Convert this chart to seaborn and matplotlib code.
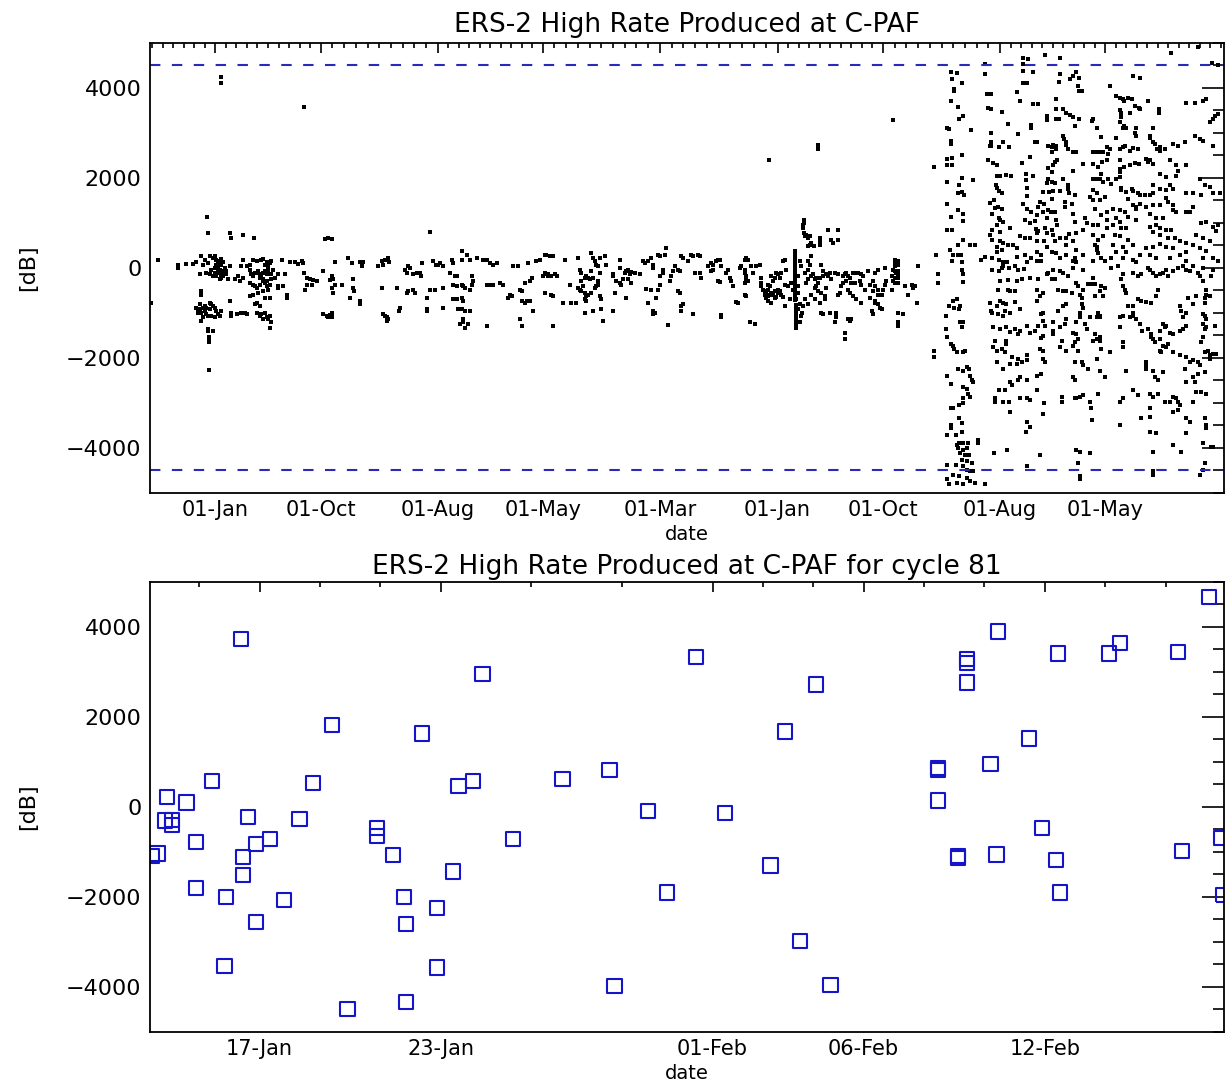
import numpy as np
import pandas as pd
import matplotlib
matplotlib.use("Agg")
import matplotlib.pyplot as plt
import matplotlib.dates as mdates
from matplotlib.ticker import FixedLocator, MultipleLocator
import seaborn as sns

# ---- data: top panel, (decimal year, dB) ----
pts_1995_1997 = [
    (1995.546, -770), (1995.593, 170), (1995.736, 75), (1995.736, 0), (1995.795, 95), (1995.842, 95), (1995.866, 125),
    (1995.901, 255), (1995.925, 185), (1995.961, 255), (1995.984, 220), (1995.996, 255), (1996.008, 170), (1996.020, 110),
    (1996.032, 145), (1996.044, 200), (1996.056, 125), (1995.949, 110), (1995.913, 75), (1995.937, -110), (1995.961, -145),
    (1995.996, -110), (1996.008, -185), (1996.020, -110), (1996.032, -35), (1996.044, -145), (1996.044, -220), (1996.056, -75),
    (1996.067, -110), (1996.079, -145), (1996.091, -255), (1996.103, 35), (1995.890, -145), (1995.996, 0), (1995.973, -35),
    (1996.008, 75), (1996.032, -255), (1996.067, 0), (1995.984, -185), (1996.020, 40), (1996.020, -40), (1996.044, 60),
    (1996.044, -60), (1996.056, -180), (1996.079, -60),
    (1995.866, -880), (1995.878, -955), (1995.890, -920), (1995.901, -990), (1995.913, -880), (1995.925, -845), (1995.890, -810),
    (1995.937, -1030), (1995.949, -1065), (1995.913, -1100), (1995.961, -920), (1995.973, -810), (1995.984, -845), (1995.996, -880),
    (1996.008, -955), (1996.020, -1030), (1996.032, -1065), (1995.973, -1065), (1995.996, -1100), (1996.044, -955), (1995.961, -770),
    (1995.901, -1175), (1995.949, -1360), (1995.984, -1395), (1995.956, -1545), (1995.956, -1640), (1996.103, -735), (1996.115, -990),
    (1996.115, -1065), (1996.155, -1030), (1996.186, -990), (1996.222, -1030), (1995.901, -515), (1995.901, -590),
    (1995.952, -2270), (1995.952, -1600), (1995.945, -1390), (1995.878, -1000), (1995.925, -960), (1995.937, -900),
    (1995.949, 770), (1996.103, 770), (1996.115, 660), (1996.198, 735), (1996.274, 660), (1996.779, 640), (1996.802, 660),
    (1996.826, 640), (1995.944, 1130),
    (1996.139, -255), (1996.162, -185), (1996.174, -295), (1996.198, -220), (1996.186, 35), (1996.222, 35), (1996.245, -35),
    (1996.257, -145), (1996.269, -185), (1996.281, -110), (1996.293, -110), (1996.305, -75), (1996.316, -145), (1996.328, -185),
    (1996.340, -110), (1996.352, -75), (1996.364, -145), (1996.376, -35), (1996.269, 185), (1996.293, 145), (1996.328, 185),
    (1996.340, 200), (1996.364, 125), (1996.388, 110), (1996.399, 145), (1996.352, 75), (1996.376, 35), (1996.245, -330),
    (1996.269, -370), (1996.281, -405), (1996.293, -440), (1996.316, -370), (1996.340, -295), (1996.352, -330), (1996.364, -405),
    (1996.376, -480), (1996.388, -370), (1996.399, -255), (1996.423, -220), (1996.447, -145), (1996.447, -405), (1996.447, -440),
    (1996.245, -625), (1996.269, -590), (1996.305, -550), (1996.340, -515), (1996.352, -660), (1996.388, -660), (1996.471, 185),
    (1996.494, -145), (1996.506, -660), (1996.506, -590), (1996.482, -405), (1996.198, 185), (1996.245, 75), (1996.411, -35),
    (1996.393, -145), (1996.316, -230), (1996.340, -250), (1996.364, -280),
    (1996.281, -810), (1996.293, -770), (1996.316, -845), (1996.316, -1065), (1996.328, -1030), (1996.352, -1005), (1996.364, -1100),
    (1996.376, -1140), (1996.340, -1140), (1996.388, -1065), (1996.395, -1210), (1996.388, -1325), (1996.210, -990), (1996.293, -990),
    (1996.530, 125), (1996.565, 125), (1996.589, 95), (1996.613, 145), (1996.625, 110), (1996.629, -110), (1996.648, -220),
    (1996.672, -245), (1996.684, -370), (1996.648, -370), (1996.696, -270), (1996.637, -480), (1996.720, -295), (1996.767, -75),
    (1996.826, -185), (1996.833, -255), (1996.826, -440), (1996.833, -550), (1996.814, -270), (1996.850, -370), (1996.897, -370),
    (1996.850, 125), (1996.945, 220), (1996.968, 110), (1996.980, -440), (1996.985, -515), (1996.980, -255), (1996.957, -660),
    (1996.767, -1030), (1996.791, -1065), (1996.814, -1050), (1996.826, -990), (1996.802, -1100), (1996.826, -1100),
]

pts_1997_1998 = [
    (1997.028, 125), (1997.051, 125), (1997.040, 35), (1997.028, -735), (1997.028, -810),
    (1997.158, 50), (1997.182, 145), (1997.206, 185), (1997.229, 220), (1997.236, 125), (1997.194, 75), (1997.182, -440),
    (1997.288, -440), (1997.217, -1100), (1997.229, -1140), (1997.222, -1175), (1997.206, -1065), (1997.194, -1030),
    (1997.312, -880), (1997.307, -955), (1997.348, -35), (1997.360, -110), (1997.372, 35), (1997.383, 0), (1997.407, -145),
    (1997.431, -110), (1997.454, -110), (1997.459, -185), (1997.360, -550), (1997.372, -515), (1997.407, -480), (1997.419, -550),
    (1997.466, 110), (1997.502, -660), (1997.502, -920), (1997.502, -955), (1997.549, 145), (1997.568, 75), (1997.585, 75),
    (1997.597, 110), (1997.620, 35), (1997.526, -480), (1997.561, -480), (1997.620, -440), (1997.620, -880), (1997.526, 810),
    (1997.668, -110), (1997.680, 185), (1997.692, 110), (1997.703, -185), (1997.715, -185), (1997.751, 370), (1997.786, 295),
    (1997.751, 185), (1997.810, 185), (1997.858, 220), (1997.905, 185), (1997.929, 185), (1997.952, 110), (1997.976, 75),
    (1998.000, 110), (1997.692, -370), (1997.715, -405), (1997.751, -370), (1997.763, -405), (1997.775, -440), (1997.822, -370),
    (1997.929, -370), (1997.952, -370), (1997.976, -370), (1997.822, -185), (1997.834, -295), (1997.810, -480), (1997.692, -700),
    (1997.715, -700), (1997.751, -660), (1997.763, -735), (1997.751, -920), (1997.727, -920), (1997.775, -955), (1997.810, -955),
    (1997.763, -1140), (1997.739, -1250), (1997.775, -1325), (1997.763, -1210), (1997.798, -1250), (1997.929, -1285),
    (1998.024, -330), (1998.047, -370), (1998.095, -590), (1998.107, -625), (1998.083, -660), (1998.118, 35), (1998.154, 35),
    (1998.166, -480), (1998.178, -515), (1998.178, -735), (1998.201, -770), (1998.213, -735), (1998.237, -735), (1998.166, -1140),
    (1998.178, -1285), (1998.261, -955), (1998.225, 110), (1998.249, -220), (1998.284, 145), (1998.308, 185), (1998.332, -185),
    (1998.344, -110), (1998.355, 295), (1998.367, -145), (1998.237, -295), (1998.201, -330),
]

pts_1998_2000 = [
    (1998.343, 295), (1998.379, 255), (1998.402, 255), (1998.355, -145), (1998.367, -170), (1998.390, -185), (1998.414, -145),
    (1998.433, -185), (1998.343, -550), (1998.390, -590), (1998.402, -625), (1998.402, -1285), (1998.485, 185), (1998.521, -370),
    (1998.473, -770), (1998.533, -770), (1998.568, -770), (1998.580, 220), (1998.592, -35), (1998.604, -110), (1998.580, -440),
    (1998.592, -480), (1998.604, -515), (1998.628, -550), (1998.616, -405), (1998.604, -295), (1998.628, -220), (1998.639, -185),
    (1998.651, -220), (1998.675, -75), (1998.675, 330), (1998.687, 220), (1998.699, 145), (1998.710, 75), (1998.722, 35),
    (1998.734, -110), (1998.722, -295), (1998.722, -370), (1998.710, -405), (1998.699, -440), (1998.675, -550), (1998.651, -590),
    (1998.639, -625), (1998.628, -700), (1998.639, -735), (1998.663, -255), (1998.687, -220), (1998.734, -625), (1998.746, -700),
    (1998.770, 255), (1998.782, 75), (1998.734, 220), (1998.628, -990), (1998.687, -955), (1998.746, -905), (1998.758, -1175),
    (1998.829, -145), (1998.829, -185), (1998.841, -550), (1998.876, 185), (1998.876, 0), (1998.912, -110), (1998.924, -75),
    (1998.936, -35), (1998.948, -145), (1998.959, -95), (1998.853, -295), (1998.876, -330), (1998.888, -370), (1998.936, -255),
    (1998.959, -330), (1998.900, -255), (1998.924, -660), (1998.829, -955), (1998.983, -110), (1999.019, -145), (1999.042, 145),
    (1999.054, 110), (1999.078, 145), (1999.102, 220), (1999.114, 75), (1999.149, 295), (1999.161, 255), (1999.197, 295),
    (1999.208, 440), (1999.185, -35), (1999.161, -370), (1999.114, 0), (1999.066, -465), (1999.102, -480), (1999.137, -660),
    (1999.149, -480), (1999.078, -770), (1999.114, -955), (1999.125, -990), (1999.114, -1030), (1999.161, -185), (1999.185, -110),
    (1999.220, -1270), (1999.232, -295), (1999.244, -185), (1999.256, -75), (1999.268, 35), (1999.291, -35), (1999.303, -75),
    (1999.315, 255), (1999.327, 220), (1999.363, 145), (1999.386, 295), (1999.398, 255), (1999.434, 295), (1999.446, 255),
    (1999.291, -515), (1999.303, -550), (1999.315, -845), (1999.315, -955), (1999.327, -810), (1999.398, -1030), (1999.410, -110),
    (1999.446, -110), (1999.457, -220), (1999.505, 35), (1999.529, 110), (1999.540, 75), (1999.564, 145), (1999.576, 185),
    (1999.588, 170), (1999.600, 35), (1999.529, -75), (1999.540, -35), (1999.576, -295), (1999.588, -315), (1999.600, -1100),
    (1999.600, -1050), (1999.635, -110), (1999.647, -35), (1999.659, -220), (1999.671, -295), (1999.683, -405), (1999.706, -755),
    (1999.718, -770), (1999.730, 0), (1999.742, 35), (1999.766, 185), (1999.777, 220), (1999.789, 185), (1999.766, -35),
    (1999.766, -110), (1999.777, -185), (1999.777, -255), (1999.766, -330), (1999.789, -295), (1999.813, 35), (1999.825, -110),
    (1999.849, 35), (1999.872, 75), (1999.766, -590), (1999.777, -625), (1999.801, -1210), (1999.837, -1250), (1999.884, -220),
    (1999.884, -405), (1999.896, -480), (1999.908, -515), (1999.932, -370), (1999.943, -405), (1999.932, -480), (1999.955, -185),
    (1999.967, -295), (1999.979, -220), (1999.991, -110), (2000.003, -145), (2000.015, -220), (2000.026, -110), (2000.038, 145),
    (2000.050, 185), (2000.062, -35), (1999.884, -330), (1999.908, -590), (1999.920, -660), (1999.943, -590), (1999.955, -550),
    (1999.932, -735), (1999.955, -770), (1999.979, -515), (2000.003, -550), (2000.026, -590), (1999.979, -660), (2000.003, -480),
    (2000.050, -370), (2000.074, -405), (2000.097, -330), (2000.109, -480), (2000.086, -700), (2000.050, -845),
    (1999.920, -560), (1999.932, -620), (1999.967, -600), (1999.990, -650), (2000.015, -520), (2000.040, -640),
]

pts_2000_2001 = [
    (2000.124, 370), (2000.124, 325), (2000.124, 280), (2000.124, 235), (2000.124, 190), (2000.124, 145), (2000.124, 100),
    (2000.124, 55), (2000.124, 10), (2000.124, -35), (2000.124, -80), (2000.124, -125), (2000.124, -170), (2000.124, -215),
    (2000.124, -260), (2000.124, -305), (2000.124, -350), (2000.124, -395), (2000.124, -440), (2000.124, -485), (2000.124, -530),
    (2000.124, -575), (2000.124, -620), (2000.124, -665), (2000.124, -710),
    (2000.131, -830), (2000.131, -880), (2000.131, -930), (2000.131, -980), (2000.131, -1030), (2000.131, -1080),
    (2000.131, -1130), (2000.131, -1180), (2000.131, -1230), (2000.131, -1280), (2000.131, -1330),
    (2000.145, -405), (2000.145, -550), (2000.133, -700), (2000.145, -920), (2000.157, -810), (2000.169, -1065), (2000.173, -990),
    (2000.157, -1210), (2000.181, -845), (2000.192, -700), (2000.216, -810), (2000.204, -330), (2000.216, -255), (2000.240, -185),
    (2000.252, -145), (2000.264, -255), (2000.275, -220), (2000.287, -330), (2000.299, -220), (2000.323, -185), (2000.346, -145),
    (2000.358, -185), (2000.370, -110), (2000.382, -255), (2000.406, -110), (2000.429, -145), (2000.216, -35), (2000.228, 75),
    (2000.240, 255), (2000.216, 145), (2000.311, 75), (2000.323, -75), (2000.169, 35), (2000.192, -110), (2000.145, -185),
    (2000.157, 145), (2000.287, -515), (2000.311, -550), (2000.335, -625), (2000.335, -700), (2000.346, -440), (2000.264, -440),
    (2000.275, -405), (2000.240, -590), (2000.264, -700), (2000.299, -770), (2000.311, -990), (2000.323, -1030), (2000.370, -990),
    (2000.418, -990), (2000.418, -1100), (2000.406, -1210), (2000.429, -590), (2000.441, -550), (2000.453, -405), (2000.465, -185),
    (2000.477, -145), (2000.489, -110), (2000.501, -185), (2000.512, -220), (2000.536, -110), (2000.560, -110), (2000.572, -110),
    (2000.595, -145), (2000.607, -185), (2000.465, -330), (2000.489, -295), (2000.524, -330), (2000.548, -330), (2000.584, -295),
    (2000.595, -370), (2000.501, -480), (2000.512, -550), (2000.536, -625), (2000.560, -700), (2000.595, -770), (2000.477, -1435),
    (2000.477, -1580), (2000.501, -1140), (2000.512, -1175), (2000.524, -1140), (2000.619, -480), (2000.655, -370),
    (2000.678, -295), (2000.690, -405), (2000.714, -480), (2000.678, -515), (2000.655, -660), (2000.690, -735), (2000.714, -810),
    (2000.726, -880), (2000.738, -920), (2000.667, -955), (2000.678, -1030), (2000.690, -770), (2000.714, -590), (2000.738, -590),
    (2000.750, -480), (2000.761, -370), (2000.773, -295), (2000.809, -185), (2000.821, -35), (2000.833, 35), (2000.844, 75),
    (2000.856, 145), (2000.844, -110), (2000.856, -220), (2000.833, -220), (2000.821, -295), (2000.833, -330), (2000.856, -330),
    (2000.809, -480), (2000.856, -990), (2000.856, -1210), (2000.856, -1285), (2000.892, -1030), (2000.904, -405),
    (2000.927, -590), (2000.951, -370), (2000.963, -440), (2000.975, -405), (2000.987, -770), (2000.999, 35), (2000.761, 0),
    (2000.714, -35), (2000.690, -110), (2000.643, -75), (2000.833, 180), (2000.833, 100), (2000.833, -60), (2000.856, 60),
    (2000.856, -60), (2000.856, -140),
    (2000.181, 955), (2000.181, 880), (2000.188, 770), (2000.204, 735), (2000.216, 660), (2000.228, 700), (2000.240, 550),
    (2000.228, 515), (2000.216, 480), (2000.259, 480), (2000.299, 660), (2000.299, 590), (2000.299, 515), (2000.358, 845),
    (2000.382, 625), (2000.394, 565), (2000.429, 845), (2000.429, 625), (2000.192, 700), (2000.190, 1060), (2000.190, 1000),
]

pts_outliers = [
    (1996.040, 4250), (1996.040, 4120), (1996.630, 3580), (1999.940, 2400), (2000.290, 2730), (2000.290, 2650),
    (2000.820, 3290), (2001.111, 2240),
]

pts_2001_upper = [
    (2001.229, 4345), (2001.277, 4335), (2001.236, 4190), (2001.307, 4115), (2001.255, 3980), (2001.255, 3930), (2001.229, 3710),
    (2001.279, 3580), (2001.291, 3320), (2001.319, 3380), (2001.205, 3120), (2001.220, 3085), (2001.371, 3070), (2001.229, 2830),
    (2001.229, 2755), (2001.205, 2425), (2001.236, 2445), (2001.205, 2290), (2001.236, 2290), (2001.307, 2500), (2001.205, 1910),
    (2001.307, 2000), (2001.291, 1835), (2001.307, 1690), (2001.284, 1655), (2001.326, 1615), (2001.386, 1945), (2001.201, 1430),
    (2001.284, 1285), (2001.319, 1210), (2001.229, 1140), (2001.314, 1045), (2001.201, 845), (2001.236, 845), (2001.314, 625),
    (2001.224, 405), (2001.284, 500), (2001.243, 295), (2001.284, 295), (2001.300, 295), (2001.125, 295), (2001.236, 160),
    (2001.307, 130), (2001.367, 515), (2001.402, 515), (2001.443, 185), (2001.473, 235),
    (2001.473, 4535), (2001.473, 4315), (2001.485, 3860), (2001.516, 3860), (2001.497, 3565), (2001.516, 3525), (2001.592, 3470),
    (2001.635, 3195), (2001.516, 2995), (2001.516, 2790), (2001.516, 2720), (2001.509, 2705), (2001.575, 2680), (2001.604, 2805),
    (2001.646, 2680), (2001.497, 2410), (2001.528, 2335), (2001.556, 2290), (2001.563, 2040), (2001.580, 2055), (2001.623, 2070),
    (2001.656, 2055), (2001.552, 1835), (2001.563, 1780), (2001.575, 1705), (2001.592, 1675), (2001.537, 1505), (2001.509, 1445),
    (2001.568, 1360), (2001.544, 1335), (2001.592, 1320), (2001.521, 1210), (2001.575, 1100), (2001.580, 1065), (2001.556, 955),
    (2001.604, 1030), (2001.521, 845), (2001.580, 810), (2001.509, 735), (2001.651, 880), (2001.521, 625), (2001.580, 590),
    (2001.604, 550), (2001.556, 475), (2001.639, 515), (2001.675, 515), (2001.592, 405), (2001.556, 365), (2001.699, 440),
    (2001.521, 220), (2001.575, 185), (2001.604, 130), (2001.632, 130), (2001.703, 235),
    (2001.746, 4665), (2001.782, 4645), (2001.741, 4540), (2001.746, 4370), (2001.817, 4345), (2001.746, 4115), (2001.770, 4115),
    (2001.699, 3910), (2001.722, 3710), (2001.817, 3635), (2001.805, 3175), (2001.805, 3120), (2001.710, 2975), (2001.829, 2805),
    (2001.846, 2790), (2001.793, 2460), (2001.734, 2335), (2001.765, 2095), (2001.817, 2040), (2001.765, 1945), (2001.774, 1780),
    (2001.770, 1600), (2001.741, 1430), (2001.770, 1320), (2001.805, 1250), (2001.841, 1175), (2001.758, 1065), (2001.829, 1045),
    (2001.793, 990), (2001.836, 865), (2001.841, 770), (2001.722, 720), (2001.758, 675), (2001.793, 660), (2001.841, 365),
    (2001.758, 295), (2001.805, 220), (2001.770, 130),
    (2001.900, 4740), (2001.853, 3635), (2001.912, 3380), (2001.912, 3290), (2001.983, 3745), (2001.983, 3540), (2001.983, 3305),
    (2002.002, 3305), (2001.924, 2720), (2001.948, 2680), (2001.959, 2735), (2001.948, 2570), (2001.983, 2705), (2001.983, 2645),
    (2001.971, 2350), (2001.959, 2290), (2001.988, 2410), (2001.924, 2220), (2001.948, 2130), (2001.919, 1985), (2001.912, 1895),
    (2001.948, 1910), (2001.971, 1895), (2001.888, 1690), (2001.931, 1690), (2001.959, 1705), (2002.007, 1705), (2001.869, 1470),
    (2001.893, 1430), (2001.948, 1530), (2001.853, 1360), (2001.884, 1250), (2001.924, 1285), (2001.943, 1250), (2001.912, 1100),
    (2001.971, 1250), (2001.983, 1065), (2001.988, 955), (2001.900, 880), (2001.948, 845), (2001.853, 825), (2001.912, 770),
    (2001.959, 735), (2001.841, 590), (2001.893, 590), (2001.971, 590), (2002.007, 660), (2001.912, 475), (2001.948, 365),
    (2001.876, 295), (2001.983, 330), (2002.007, 220), (2001.841, 160), (2001.876, 145),
]

pts_2001_lower = [
    (2001.111, -1835), (2001.111, -1985), (2001.141, -145), (2001.141, -345), (2001.196, -1065), (2001.196, -1360),
    (2001.201, -1545), (2001.205, -2390), (2001.229, -2570), (2001.229, -3120), (2001.229, -3490), (2001.229, -3565),
    (2001.201, -3710), (2001.201, -4370), (2001.201, -4700), (2001.220, -4810), (2001.229, -1690), (2001.243, -1725),
    (2001.248, -735), (2001.220, -845), (2001.253, -880), (2001.277, -700), (2001.291, -920), (2001.296, -845), (2001.296, -1200),
    (2001.319, -1210), (2001.307, -1320), (2001.253, -1800), (2001.272, -1875), (2001.314, -1860), (2001.331, -1835),
    (2001.319, -2280), (2001.284, -2255), (2001.343, -2205), (2001.362, -2240), (2001.367, -2390), (2001.379, -2500),
    (2001.319, -2645), (2001.343, -2680), (2001.319, -2885), (2001.355, -2790), (2001.367, -2865), (2001.390, -2535),
    (2001.291, -3050), (2001.319, -3010), (2001.243, -3120), (2001.291, -3345), (2001.307, -3455), (2001.267, -3710),
    (2001.307, -3635), (2001.291, -3895), (2001.319, -3895), (2001.355, -3895), (2001.272, -3930), (2001.284, -4005),
    (2001.319, -4040), (2001.343, -4005), (2001.296, -4115), (2001.331, -4150), (2001.362, -4150), (2001.307, -4260),
    (2001.343, -4300), (2001.379, -4335), (2001.267, -4370), (2001.314, -4410), (2001.343, -4480), (2001.367, -4520),
    (2001.390, -4505), (2001.248, -4590), (2001.291, -4630), (2001.343, -4665), (2001.367, -4740), (2001.272, -4775),
    (2001.319, -4810), (2001.402, -4775), (2001.426, -3895), (2001.426, -3820), (2001.473, -4810), (2001.314, -315),
    (2001.307, -35), (2001.319, -145),
    (2001.521, -35), (2001.575, -75), (2001.592, 0), (2001.604, 35), (2001.646, 0), (2001.687, 35), (2001.710, -50),
    (2001.751, -20), (2001.580, -295), (2001.639, -270), (2001.699, -295), (2001.734, -240), (2001.568, -480), (2001.639, -480),
    (2001.651, -515), (2001.687, -515), (2001.580, -735), (2001.604, -770), (2001.623, -810), (2001.616, -955), (2001.651, -990),
    (2001.687, -755), (2001.556, -845), (2001.521, -990), (2001.568, -1030), (2001.599, -1065), (2001.722, -920), (2001.509, -770),
    (2001.514, -955), (2001.533, -1320), (2001.580, -1360), (2001.623, -1320), (2001.651, -1420), (2001.687, -1360),
    (2001.710, -1470), (2001.722, -1395), (2001.770, -1285), (2001.793, -1435), (2001.829, -1395), (2001.544, -1615),
    (2001.623, -1615), (2001.623, -1690), (2001.533, -1765), (2001.556, -1835), (2001.592, -1800), (2001.616, -1875),
    (2001.663, -1985), (2001.710, -2020), (2001.556, -2095), (2001.604, -2240), (2001.651, -2130), (2001.699, -2130),
    (2001.734, -2095), (2001.770, -1945), (2001.770, -2055), (2001.575, -2720), (2001.616, -2720), (2001.651, -2535),
    (2001.663, -2610), (2001.722, -2425), (2001.710, -2500), (2001.770, -2500), (2001.544, -2900), (2001.544, -2975),
    (2001.604, -2975), (2001.646, -2975), (2001.651, -3195), (2001.722, -2900), (2001.770, -2900), (2001.793, -2940),
    (2001.841, -2390), (2001.888, -2020), (2001.770, -3415), (2001.765, -3635), (2001.793, -3525), (2001.537, -4115),
    (2001.632, -4040), (2001.770, -4410), (2001.865, -4150),
    (2001.793, -220), (2001.853, -255), (2001.912, -145), (2001.924, -110), (2001.948, -240), (2001.959, -35), (2001.971, -255),
    (2002.007, -75), (2002.031, -110), (2002.066, -185), (2002.102, 0), (2001.841, -480), (2001.888, -550), (2001.865, -625),
    (2001.841, -735), (2001.888, -990), (2001.876, -1030), (2001.888, -1175), (2001.853, -1285), (2001.900, -1285),
    (2001.888, -1505), (2001.876, -1565), (2001.865, -1800), (2001.888, -1835), (2001.900, -2095), (2001.876, -2350),
    (2001.841, -2720), (2001.893, -3010), (2001.888, -3235), (2001.959, -1210), (2001.959, -1395), (2001.959, -1470),
    (2001.995, -480), (2002.031, -515), (2002.054, -515), (2002.090, -550), (2002.054, -810), (2002.031, -845), (2001.995, -955),
    (2002.054, -1140), (2002.007, -1320), (2002.042, -1250), (2002.019, -1615), (2002.102, -1435), (2002.125, -1470),
    (2002.137, -1580), (2002.007, -1765), (2002.054, -1835), (2002.114, -1655), (2002.102, -1725), (2002.137, -1835),
    (2002.114, -2095), (2002.161, -2095), (2002.173, -2165), (2002.102, -2425), (2002.114, -2500), (2002.019, -2865),
    (2002.019, -2975), (2002.114, -2900), (2002.125, -2900), (2002.149, -2865), (2002.173, -2830), (2002.220, -2975),
    (2002.232, -3120), (2002.239, -3380), (2002.279, -2790), (2002.327, -2425), (2002.291, -2280), (2002.208, -2240),
    (2002.173, -35), (2002.125, -330), (2002.137, -405), (2002.173, -480), (2002.149, -590), (2002.161, -660), (2002.161, -810),
    (2002.173, -880), (2002.149, -990), (2002.149, -1100), (2002.125, -1210), (2002.185, -1250),
]

pts_2002_upper = [
    (2002.007, 4665), (2002.007, 4300), (2002.002, 4130), (2002.078, 4190), (2002.102, 4275), (2002.125, 4345), (2002.144, 4225),
    (2002.137, 4040), (2002.144, 3930), (2002.161, 3930), (2002.031, 3525), (2002.054, 3440), (2002.078, 3395), (2002.097, 3365),
    (2002.144, 3305), (2002.031, 2940), (2002.038, 2865), (2002.054, 2790), (2002.066, 2645), (2002.054, 2735), (2002.102, 2570),
    (2002.125, 2570), (2002.114, 3160), (2002.173, 2315), (2002.102, 2165), (2002.031, 1985), (2002.066, 1835), (2002.066, 1765),
    (2002.073, 1655), (2002.090, 1430), (2002.114, 1615), (2002.042, 1470), (2002.042, 1360), (2002.102, 1210), (2002.114, 1030),
    (2002.125, 770), (2002.073, 750), (2002.054, 660), (2002.102, 590), (2002.054, 515), (2002.125, 405), (2002.054, 295),
    (2002.114, 220), (2002.097, 160), (2002.125, 130), (2002.173, 295),
    (2002.244, 3305), (2002.239, 3270), (2002.268, 3100), (2002.303, 2900), (2002.244, 2585), (2002.268, 2585), (2002.291, 2585),
    (2002.315, 2570), (2002.339, 2680), (2002.351, 2535), (2002.362, 2645), (2002.244, 2315), (2002.279, 2240), (2002.310, 2365),
    (2002.339, 2390), (2002.244, 1985), (2002.268, 1985), (2002.291, 1985), (2002.303, 2095), (2002.315, 1910), (2002.351, 1985),
    (2002.374, 1875), (2002.244, 1725), (2002.268, 1655), (2002.244, 1505), (2002.291, 1505), (2002.327, 1580), (2002.256, 1320),
    (2002.303, 1175), (2002.339, 1250), (2002.244, 955), (2002.279, 955), (2002.339, 1065), (2002.339, 880), (2002.244, 735),
    (2002.315, 700), (2002.279, 625), (2002.256, 515), (2002.268, 475), (2002.268, 405), (2002.279, 330), (2002.303, 220),
    (2002.244, 160), (2002.327, 160), (2002.197, 990), (2002.220, 1580), (2002.173, 845), (2002.185, 1100),
    (2002.362, 4040), (2002.410, 3820), (2002.434, 3785), (2002.453, 3760), (2002.462, 3710), (2002.493, 3785), (2002.524, 3760),
    (2002.540, 3600), (2002.438, 3510), (2002.445, 3455), (2002.445, 3345), (2002.509, 3440), (2002.576, 3525), (2002.571, 3565),
    (2002.434, 3235), (2002.462, 3145), (2002.453, 3100), (2002.481, 3100), (2002.540, 3010), (2002.547, 2940), (2002.552, 3120),
    (2002.405, 2880), (2002.434, 2645), (2002.457, 2680), (2002.469, 2720), (2002.505, 2610), (2002.528, 2660), (2002.564, 2645),
    (2002.434, 2390), (2002.434, 2205), (2002.434, 2130), (2002.434, 2020), (2002.462, 2240), (2002.505, 2280), (2002.540, 2335),
    (2002.571, 2315), (2002.410, 1985), (2002.445, 1780), (2002.445, 1725), (2002.481, 1690), (2002.517, 1765), (2002.528, 1705),
    (2002.564, 1675), (2002.576, 1615), (2002.493, 1530), (2002.528, 1395), (2002.552, 1360), (2002.576, 1430), (2002.386, 1320),
    (2002.434, 1285), (2002.469, 1235), (2002.493, 1140), (2002.410, 1100), (2002.434, 1030), (2002.386, 955), (2002.445, 880),
    (2002.481, 880), (2002.552, 1065), (2002.398, 735), (2002.434, 700), (2002.493, 625), (2002.386, 515), (2002.457, 475),
    (2002.528, 515), (2002.410, 365), (2002.481, 365), (2002.576, 295), (2002.374, 220), (2002.457, 220), (2002.528, 185),
    (2002.552, 130),
    (2002.528, 4260), (2002.576, 4225), (2002.635, 3710), (2002.713, 3525), (2002.713, 3455), (2002.671, 3100), (2002.647, 2940),
    (2002.647, 2880), (2002.671, 2790), (2002.683, 2755), (2002.699, 2645), (2002.718, 2680), (2002.718, 2610), (2002.754, 2645),
    (2002.623, 2425), (2002.635, 2350), (2002.647, 2390), (2002.671, 2315), (2002.789, 2390), (2002.813, 2755), (2002.849, 2720),
    (2002.837, 2280), (2002.849, 2165), (2002.837, 2055), (2002.718, 2095), (2002.766, 2020), (2002.671, 1835), (2002.718, 1765),
    (2002.766, 1725), (2002.789, 1835), (2002.813, 1765), (2002.611, 1630), (2002.647, 1615), (2002.671, 1655), (2002.766, 1545),
    (2002.777, 1470), (2002.813, 1395), (2002.552, 1320), (2002.623, 1360), (2002.671, 1395), (2002.718, 1395), (2002.647, 1210),
    (2002.694, 1100), (2002.742, 1100), (2002.813, 1285), (2002.837, 1250), (2002.908, 1250), (2002.647, 920), (2002.694, 955),
    (2002.718, 880), (2002.766, 845), (2002.801, 845), (2002.671, 810), (2002.718, 735), (2002.777, 660), (2002.825, 660),
    (2002.860, 590), (2002.908, 550), (2002.623, 440), (2002.671, 475), (2002.718, 530), (2002.766, 475), (2002.813, 440),
    (2002.647, 295), (2002.694, 220), (2002.789, 220), (2002.860, 295), (2002.908, 145),
    (2002.801, 4775), (2002.991, 4920), (2002.908, 3670), (2002.967, 3675), (2003.026, 3710), (2003.050, 3745), (2002.967, 2940),
    (2003.003, 2865), (2002.896, 2790), (2003.026, 2830), (2003.097, 2720), (2002.908, 2280), (2003.003, 1985), (2003.038, 1835),
    (2003.074, 1800), (2003.097, 1675), (2003.145, 1655), (2002.908, 1655), (2002.955, 1655), (2003.014, 1615), (2002.955, 1360),
    (2002.931, 1250), (2003.014, 990), (2003.050, 1030), (2003.097, 920), (2003.133, 955), (2003.121, 825), (2002.979, 735),
    (2003.026, 660), (2003.074, 590), (2002.955, 515), (2003.003, 440), (2003.050, 380), (2002.908, 365), (2003.026, 220),
    (2003.097, 220), (2003.133, 145), (2003.097, 3305), (2003.109, 3380), (2003.074, 3235), (2003.133, 3415), (2003.133, 4520),
    (2003.093, 4555),
]

pts_2002_lower = [
    (2002.208, -365), (2002.232, -365), (2002.256, -365), (2002.303, -405), (2002.327, -440), (2002.291, -515), (2002.256, -625),
    (2002.315, -625), (2002.244, -220), (2002.279, -990), (2002.291, -1065), (2002.220, -1100), (2002.268, -1100),
    (2002.291, -1100), (2002.291, -1545), (2002.291, -1615), (2002.244, -1615), (2002.268, -1580), (2002.303, -1800),
    (2002.362, -1875), (2002.268, -2020), (2002.197, -1360), (2002.256, -1470), (2002.374, 0), (2002.422, 35), (2002.457, -145),
    (2002.445, -255), (2002.457, -405), (2002.469, -480), (2002.481, -550), (2002.528, -110), (2002.564, -185), (2002.588, -145),
    (2002.635, 0), (2002.647, -35), (2002.671, -110), (2002.694, -185), (2002.718, -145), (2002.742, -110), (2002.766, -35),
    (2002.777, -185), (2002.813, -75), (2002.849, 0), (2002.884, 35), (2002.908, -35), (2002.931, -75), (2002.955, 35),
    (2002.434, -1100), (2002.457, -1065), (2002.505, -1100), (2002.528, -1065), (2002.552, -1140), (2002.576, -1250),
    (2002.493, -845), (2002.528, -845), (2002.564, -700), (2002.588, -735), (2002.623, -755), (2002.659, -770), (2002.694, -625),
    (2002.706, -480), (2002.457, -1655), (2002.457, -1765), (2002.434, -1320), (2002.528, -990), (2002.595, -1395),
    (2002.635, -1360), (2002.659, -1470), (2002.683, -1655), (2002.718, -1395), (2002.742, -1250), (2002.754, -1320),
    (2002.766, -1285), (2002.789, -1435), (2002.813, -1470), (2002.860, -1395), (2002.884, -1360), (2002.908, -1285),
    (2002.659, -1545), (2002.671, -1580), (2002.718, -1580), (2002.742, -1725), (2002.766, -1765), (2002.718, -1835),
    (2002.730, -1875), (2002.777, -1690), (2002.813, -1875), (2002.860, -1945), (2002.908, -1985),
    (2002.434, -2975), (2002.481, -2280), (2002.528, -2720), (2002.564, -2830), (2002.588, -3345), (2002.647, -3120),
    (2002.647, -3305), (2002.623, -2095), (2002.623, -2165), (2002.623, -2240), (2002.671, -2280), (2002.683, -2425),
    (2002.706, -2500), (2002.742, -2315), (2002.647, -2790), (2002.671, -2865), (2002.706, -2790), (2002.754, -2975),
    (2002.789, -2975), (2002.813, -2865), (2002.837, -2900), (2002.849, -2975), (2002.860, -3050), (2002.849, -3160),
    (2002.647, -3635), (2002.694, -3675), (2002.813, -3195), (2002.908, -3345), (2002.931, -3415), (2002.908, -3675),
    (2002.955, -2975), (2002.979, -2755), (2003.014, -2755), (2003.050, -2790), (2002.908, -2535), (2002.955, -2425),
    (2002.967, -2535), (2002.991, -2350), (2003.038, -2315), (2002.896, -2240), (2002.931, -2095), (2002.955, -2055),
    (2002.991, -2095), (2003.003, -2165), (2003.014, -1655), (2003.026, -1545), (2003.038, -1360), (2003.050, -1320),
    (2003.026, -1250), (2003.050, -1140), (2003.038, -1065), (2003.026, -1030), (2003.038, -770), (2003.038, -660),
    (2003.045, -590), (2003.050, -480), (2003.026, -295), (2003.003, -185), (2002.991, -110), (2003.026, 0), (2002.955, -810),
    (2002.979, -625), (2002.920, -660), (2002.860, -845), (2002.872, -955), (2002.908, -990), (2002.884, -1100),
    (2003.038, -3345), (2003.050, -3490), (2003.050, -3565), (2003.026, -3895), (2003.038, -4335), (2003.003, -4590),
    (2003.026, -4480), (2003.074, -1945), (2003.097, -1910), (2003.121, -1910), (2003.074, -2020), (2003.109, -1285),
    (2003.038, -1875), (2003.062, -1835), (2003.097, -3970), (2003.086, -3970), (2002.671, -4520), (2002.671, -4590),
    (2002.813, -3930), (2002.872, -4080), (2002.671, -4080), (2002.125, -4040), (2002.149, -4080), (2002.137, -4335),
    (2002.149, -4630), (2002.149, -4700), (2002.220, -4115), (2002.434, -3490), (2002.457, -2900), (2003.097, -35),
    (2003.086, -185), (2003.074, -625),
]

limit_db = 4500

# ---- data: bottom panel, cycle 81 (days since 2003-01-01, dB) ----
cycle_day = [12.45, 12.62, 12.93, 12.88, 13.10, 13.10, 13.58, 13.89, 13.89, 14.43, 14.84, 14.90, 15.39, 15.44, 15.44,
             15.62, 15.87, 15.87, 16.35, 16.82, 17.32, 17.78, 18.39, 18.91, 19.90, 19.90, 20.41, 20.78, 20.84, 20.84,
             21.39, 21.87, 21.87, 22.41, 22.59, 23.06, 23.38, 24.39, 26.03, 27.59, 27.75, 28.87, 29.49, 30.45, 31.42,
             32.92, 33.40, 33.89, 34.42, 34.90, 38.47, 38.47, 38.47, 39.12, 39.12, 39.42, 39.42, 39.42, 40.20, 40.40,
             40.45, 41.47, 41.90, 42.37, 42.44, 42.50, 44.13, 44.49, 46.40, 46.55, 47.44, 47.84, 47.90]
cycle_db = [-1089, -1035, 230, -300, -284, -400, 100, -782, -1802, 583, -3528, -2002, 3728, -1112, -1511,
            -222, -820, -2562, -713, -2071, -268, 537, 1825, -4487, -475, -637, -1066, -1994, -2608, -4334,
            1634, -2240, -3567, -1434, 460, 575, 2961, -713, 614, 821, -3981, -92, -1900, 3332, -130,
            -1302, 1677, -2987, 2719, -3960, 858, 830, 145, -1095, -1134, 3294, 3202, 2765, 950, -1057,
            3899, 1524, -460, -1172, 3409, -1900, 3409, 3646, 3447, -973, 4665, -689, -1953]


def year_to_date(years):
    years = np.asarray(years, dtype=float)
    whole = np.floor(years).astype(int)
    start = pd.to_datetime([f"{y}-01-01" for y in whole])
    end = pd.to_datetime([f"{y + 1}-01-01" for y in whole])
    return start + (end - start) * (years - whole)


all_pts = (pts_1995_1997 + pts_1997_1998 + pts_1998_2000 + pts_2000_2001 + pts_outliers
           + pts_2001_upper + pts_2001_lower + pts_2002_upper + pts_2002_lower)
top_df = pd.DataFrame(all_pts, columns=["year", "db"])
top_df["date"] = year_to_date(top_df["year"])

cyc_df = pd.DataFrame({"day": cycle_day, "db": cycle_db})
cyc_df["date"] = pd.Timestamp("2003-01-01") + pd.to_timedelta(cyc_df["day"], unit="D")

# ---- style ----
sns.set_style("white")
plt.rcParams["font.family"] = ["DejaVu Sans"]
plt.rcParams["axes.unicode_minus"] = True
for key in ("text.color", "axes.labelcolor", "xtick.color", "ytick.color", "axes.edgecolor"):
    plt.rcParams[key] = "black"

blue_line = "#2a2ab8"
blue_box = "#1414c8"

fig = plt.figure(figsize=(12.28, 10.88), dpi=100)
ax1 = fig.add_axes([0.1221, 0.5469, 0.8746, 0.4136])
ax2 = fig.add_axes([0.1221, 0.0515, 0.8746, 0.4136])


def style_axes(ax):
    for sp in ax.spines.values():
        sp.set_linewidth(1.3)
        sp.set_color("black")
    ax.set_ylim(-5000, 5000)
    ax.yaxis.set_major_locator(MultipleLocator(2000))
    ax.yaxis.set_minor_locator(MultipleLocator(500))
    ax.tick_params(which="both", direction="in", top=True, right=True, width=1.2, color="black")
    ax.tick_params(axis="y", which="major", length=16, labelsize=16, pad=6)
    ax.tick_params(axis="y", which="minor", length=8)
    ax.tick_params(axis="x", which="major", length=7, labelsize=15, pad=5)
    ax.tick_params(axis="x", which="minor", length=3.5)
    ax.set_ylabel("[dB]", fontsize=16)
    ax.yaxis.set_label_coords(-0.104, 0.5)
    ax.set_xlabel("date", fontsize=14, labelpad=0)
    ax.xaxis.set_label_coords(0.5, -0.071)
    ax.xaxis.set_major_formatter(mdates.DateFormatter("%d-%b"))


# ---- top panel ----
sns.scatterplot(data=top_df, x="date", y="db", ax=ax1, color="black", marker="s", s=6,
                linewidth=0, legend=False)
for lvl in (limit_db, -limit_db):
    ax1.axhline(lvl, color=blue_line, lw=1.5, ls=(0, (5, 5.5)))
ax1.set_xlim(year_to_date([1995.535])[0], year_to_date([2003.175])[0])

top_major = mdates.date2num(pd.to_datetime(["1996-01-01", "1996-10-01", "1997-08-01", "1998-05-01", "1999-03-01",
                                            "2000-01-01", "2000-10-01", "2001-08-01", "2002-05-01"]))
top_minor = []
for a, b in zip(top_major[:-1], top_major[1:]):
    top_minor += list(np.linspace(a, b, 11)[1:-1])
top_minor += list(top_major[0] - (top_major[1] - top_major[0]) / 10 * np.arange(1, 8))
top_minor += list(top_major[-1] + (top_major[-1] - top_major[-2]) / 10 * np.arange(1, 13))
ax1.xaxis.set_major_locator(FixedLocator(top_major))
ax1.xaxis.set_minor_locator(FixedLocator(top_minor))
style_axes(ax1)
ax1.set_title("ERS-2 High Rate Produced at C-PAF", fontsize=19, pad=8)

# ---- bottom panel ----
sns.scatterplot(data=cyc_df, x="date", y="db", ax=ax2, marker="s", s=105, legend=False)
pts = ax2.collections[0]
pts.set_facecolor("none")
pts.set_edgecolor(blue_box)
pts.set_linewidth(1.5)
ax2.set_xlim(pd.Timestamp("2003-01-13 08:53"), pd.Timestamp("2003-02-17 22:20"))

bot_major = mdates.date2num(pd.to_datetime(["2003-01-17", "2003-01-23", "2003-02-01", "2003-02-06", "2003-02-12"]))
bot_minor = []
for a, b in zip(bot_major[:-1], bot_major[1:]):
    bot_minor += list(np.linspace(a, b, 4)[1:-1])
bot_minor += list(bot_major[0] - (bot_major[1] - bot_major[0]) / 3 * np.arange(1, 3))
bot_minor += list(bot_major[-1] + (bot_major[-1] - bot_major[-2]) / 3 * np.arange(1, 4))
ax2.xaxis.set_major_locator(FixedLocator(bot_major))
ax2.xaxis.set_minor_locator(FixedLocator(bot_minor))
style_axes(ax2)
ax2.set_title("ERS-2 High Rate Produced at C-PAF for cycle 81", fontsize=19, pad=6)

fig.savefig("out.png", dpi=100)
